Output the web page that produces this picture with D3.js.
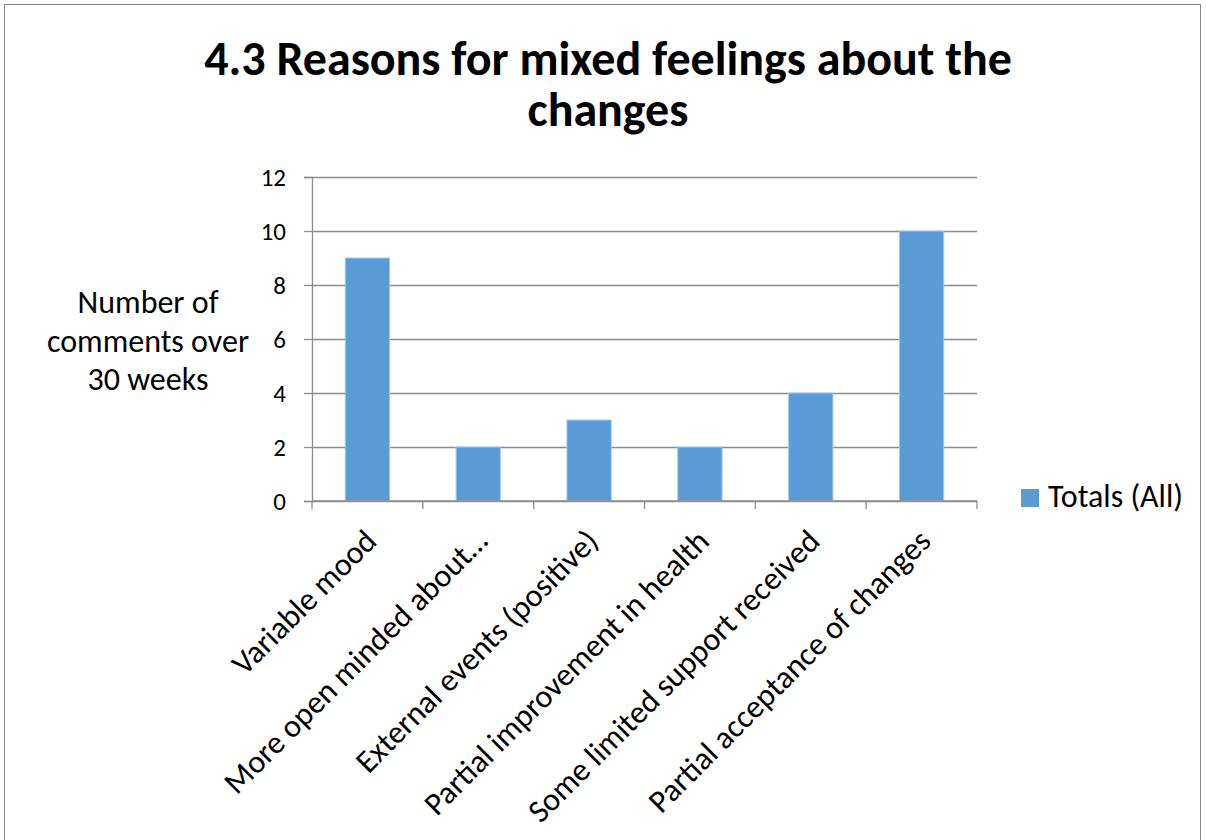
<!DOCTYPE html>
<html>
<head>
<meta charset="utf-8">
<script src="https://cdn.jsdelivr.net/npm/d3@7"></script>
<style>
  html, body { margin: 0; padding: 0; background: #fff; }
  svg { display: block; font-family: Carlito, Lato, "Open Sans", sans-serif; }
</style>
</head>
<body>
<svg id="chart" width="1206" height="840"></svg>
<script>
// Chart content
const titleLines = ["4.3 Reasons for mixed feelings about the", "changes"];
const yTitleLines = ["Number of", "comments over", "30 weeks"];
const categories = [
  "Variable mood",
  "More open minded about…",
  "External events (positive)",
  "Partial improvement in health",
  "Some limited support received",
  "Partial acceptance of changes"
];
const totals = [9, 2, 3, 2, 4, 10];
const yTicks = [0, 2, 4, 6, 8, 10, 12];
const seriesName = "Totals (All)";

const barColor = "#5B9BD5";
const gridColor = "#8C8C8C";

const svg = d3.select("#chart");

// Outer chart frame
svg.append("rect")
  .attr("x", 4.5).attr("y", 4.5)
  .attr("width", 1196).attr("height", 850)
  .attr("fill", "#fff").attr("stroke", "#888").attr("stroke-width", 1);

// Plot area
const plot = { left: 312, right: 977, top: 177, bottom: 501 };

const x = d3.scaleBand()
  .domain(categories)
  .range([plot.left, plot.right])
  .paddingInner(0.6)
  .paddingOuter(0.3);

const xCat = d3.scaleBand()
  .domain(categories)
  .range([plot.left, plot.right]);

const y = d3.scaleLinear()
  .domain([0, 12])
  .range([plot.bottom, plot.top]);

// Title
svg.append("g").selectAll("text")
  .data(titleLines)
  .join("text")
  .attr("x", 608)
  .attr("y", (d, i) => 75 + i * 51)
  .attr("text-anchor", "middle")
  .attr("font-weight", "bold")
  .attr("font-size", 48)
  .attr("fill", "#000")
  .text(d => d);

// Horizontal gridlines
svg.append("g")
  .attr("transform", `translate(${plot.left},0)`)
  .call(d3.axisLeft(y).tickValues(yTicks).tickSize(-(plot.right - plot.left)).tickFormat(""))
  .call(g => g.select(".domain").remove())
  .call(g => g.selectAll("line").attr("stroke", gridColor).attr("stroke-width", 1.3));

// Y axis with outward ticks and labels
svg.append("g")
  .attr("transform", `translate(${plot.left},0)`)
  .call(d3.axisLeft(y).tickValues(yTicks).tickSize(8).tickPadding(18))
  .call(g => g.attr("font-size", 25).attr("font-family", null))
  .call(g => g.select(".domain").attr("stroke", gridColor).attr("stroke-width", 1.3))
  .call(g => g.selectAll("line").attr("stroke", gridColor).attr("stroke-width", 1.3))
  .call(g => g.selectAll("text")
    .attr("font-size", 25)
    .attr("fill", "#000"));

// Y axis title
svg.append("g").selectAll("text")
  .data(yTitleLines)
  .join("text")
  .attr("x", 148)
  .attr("y", (d, i) => 313 + i * 38.5)
  .attr("text-anchor", "middle")
  .attr("font-size", 32)
  .attr("fill", "#000")
  .text(d => d);

// Bars
svg.append("g").selectAll("rect")
  .data(categories.map((c, i) => ({ c, v: totals[i] })))
  .join("rect")
  .attr("x", d => x(d.c))
  .attr("width", x.bandwidth())
  .attr("y", d => y(d.v))
  .attr("height", d => y(0) - y(d.v))
  .attr("fill", barColor)
  .attr("stroke", "#A9C8E8")
  .attr("stroke-width", 1);

// X axis: category boundary ticks
const xAxis = svg.append("g");
xAxis.append("line")
  .attr("x1", plot.left).attr("x2", plot.right)
  .attr("y1", plot.bottom).attr("y2", plot.bottom)
  .attr("stroke", gridColor).attr("stroke-width", 1.3);
const boundaries = categories.map(c => xCat(c)).concat([plot.right]);
xAxis.selectAll("line.tick")
  .data(boundaries)
  .join("line")
  .attr("class", "tick")
  .attr("x1", d => d).attr("x2", d => d)
  .attr("y1", plot.bottom).attr("y2", plot.bottom + 8)
  .attr("stroke", gridColor).attr("stroke-width", 1.3);

// Rotated category labels
xAxis.selectAll("text")
  .data(categories)
  .join("text")
  .attr("transform", d => `translate(${xCat(d) + xCat.bandwidth() / 2 + 11},${plot.bottom + 42}) rotate(-45)`)
  .attr("text-anchor", "end")
  .attr("font-size", 32)
  .attr("fill", "#000")
  .text(d => d);

// Legend
const legend = svg.append("g").attr("transform", "translate(1021,489)");
legend.append("rect")
  .attr("width", 18).attr("height", 18)
  .attr("fill", barColor);
legend.append("text")
  .attr("x", 27).attr("y", 18)
  .attr("font-size", 32)
  .attr("fill", "#000")
  .text(seriesName);
</script>
</body>
</html>
